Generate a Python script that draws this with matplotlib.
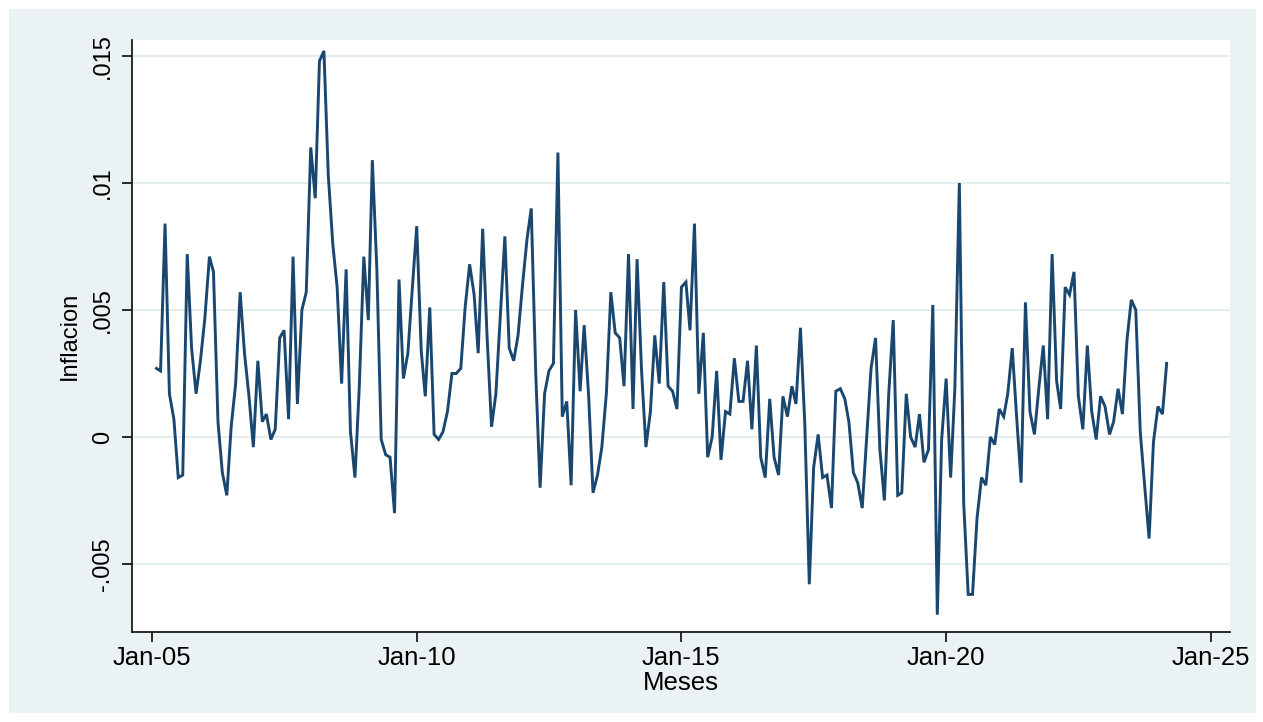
import matplotlib
matplotlib.use("Agg")
import matplotlib.pyplot as plt
from matplotlib.patches import Rectangle
import pandas as pd

# Monthly inflation, Feb 2005 - Mar 2024
start_month = "2005-02-01"
inflacion = [
    .0027, .0026, .0084, .0017, .0007, -.0016, -.0015, .0072, .0035, .0017,
    .0030, .0047, .0071, .0065, .0006, -.0014, -.0023, .0004, .0021, .0057,
    .0033, .0016, -.0004, .0030, .0006, .0009, -.0001, .0003, .0039, .0042,
    .0007, .0071, .0013, .0050, .0057, .0114, .0094, .0148, .0152, .0103,
    .0076, .0059, .0021, .0066, .0002, -.0016, .0020, .0071, .0046, .0109,
    .0066, -.0001, -.0007, -.0008, -.0030, .0062, .0023, .0033, .0058, .0083,
    .0034, .0016, .0051, .0001, -.0001, .0002, .0010, .0025, .0025, .0027,
    .0051, .0068, .0056, .0033, .0082, .0040, .0004, .0017, .0048, .0079,
    .0035, .0030, .0040, .0060, .0078, .0090, .0025, -.0020, .0017, .0026,
    .0029, .0112, .0008, .0014, -.0019, .0050, .0018, .0044, .0016, -.0022,
    -.0015, -.0004, .0017, .0057, .0041, .0039, .0020, .0072, .0011, .0070,
    .0026, -.0004, .0010, .0040, .0021, .0061, .0020, .0018, .0011, .0059,
    .0061, .0042, .0084, .0017, .0041, -.0008, .0000, .0026, -.0009, .0010,
    .0009, .0031, .0014, .0014, .0030, .0003, .0036, -.0008, -.0016, .0015,
    -.0008, -.0015, .0016, .0008, .0020, .0013, .0043, .0005, -.0058, -.0012,
    .0001, -.0016, -.0015, -.0028, .0018, .0019, .0015, .0006, -.0014, -.0018,
    -.0028, -.0001, .0027, .0039, -.0005, -.0025, .0017, .0046, -.0023, -.0022,
    .0017, .0000, -.0004, .0009, -.0010, -.0005, .0052, -.0070, -.0001, .0023,
    -.0016, .0019, .0100, -.0026, -.0062, -.0062, -.0032, -.0016, -.0019, .0000,
    -.0003, .0011, .0008, .0017, .0035, .0008, -.0018, .0053, .0010, .0001,
    .0019, .0036, .0007, .0072, .0022, .0011, .0059, .0056, .0065, .0016,
    .0003, .0036, .0010, -.0001, .0016, .0012, .0001, .0006, .0019, .0009,
    .0038, .0054, .0050, .0002, -.0019, -.0040, -.0002, .0012, .0009, .0029,
]
y_ticks = [-.005, 0, .005, .01, .015]
y_tick_labels = ["-.005", "0", ".005", ".01", ".015"]
x_tick_dates = ["2005-01-01", "2010-01-01", "2015-01-01", "2020-01-01", "2025-01-01"]
x_tick_labels = ["Jan-05", "Jan-10", "Jan-15", "Jan-20", "Jan-25"]

meses = pd.date_range(start_month, periods=len(inflacion), freq="MS")

plt.rcParams["font.family"] = ["Liberation Sans", "DejaVu Sans"]

W, H = 1263, 722
fig = plt.figure(figsize=(W / 100, H / 100), dpi=100, facecolor="white")

# light bluish graph region behind the white plot region
bg = "#EAF2F3"
fig.patches.append(Rectangle((9 / W, 1 - 713 / H), (1256 - 9) / W, (713 - 9) / H,
                             transform=fig.transFigure, facecolor=bg,
                             edgecolor="none", zorder=-10))

ax = fig.add_axes([132 / W, 1 - 632 / H, (1230 - 132) / W, (632 - 40) / H])
ax.set_facecolor("white")

ax.plot(meses, inflacion, color="#1A476F", linewidth=2.1, solid_joinstyle="miter")

ax.set_ylim(-0.00768, 0.01563)
ax.set_xlim(pd.Timestamp("2004-08-16"), pd.Timestamp("2025-05-12"))

ax.set_yticks(y_ticks)
ax.set_yticklabels(y_tick_labels, rotation=90, va="center", fontsize=17)
ax.set_xticks([pd.Timestamp(d) for d in x_tick_dates])
ax.set_xticklabels(x_tick_labels, fontsize=18.5)

ax.grid(axis="y", color="#E4EEF1", linewidth=1.4)
ax.set_axisbelow(True)

for side in ("top", "right"):
    ax.spines[side].set_visible(False)
for side in ("left", "bottom"):
    ax.spines[side].set_color("#1a1a1a")
    ax.spines[side].set_linewidth(1.3)

ax.tick_params(axis="both", direction="out", length=7, width=1.3, color="#1a1a1a",
               labelcolor="black")
ax.tick_params(axis="y", pad=6)
ax.tick_params(axis="x", pad=3)

ax.set_ylabel("Inflacion", fontsize=17, labelpad=8)
ax.set_xlabel("Meses", fontsize=18.5, labelpad=1)

fig.savefig("out.png", dpi=100, facecolor="white")
